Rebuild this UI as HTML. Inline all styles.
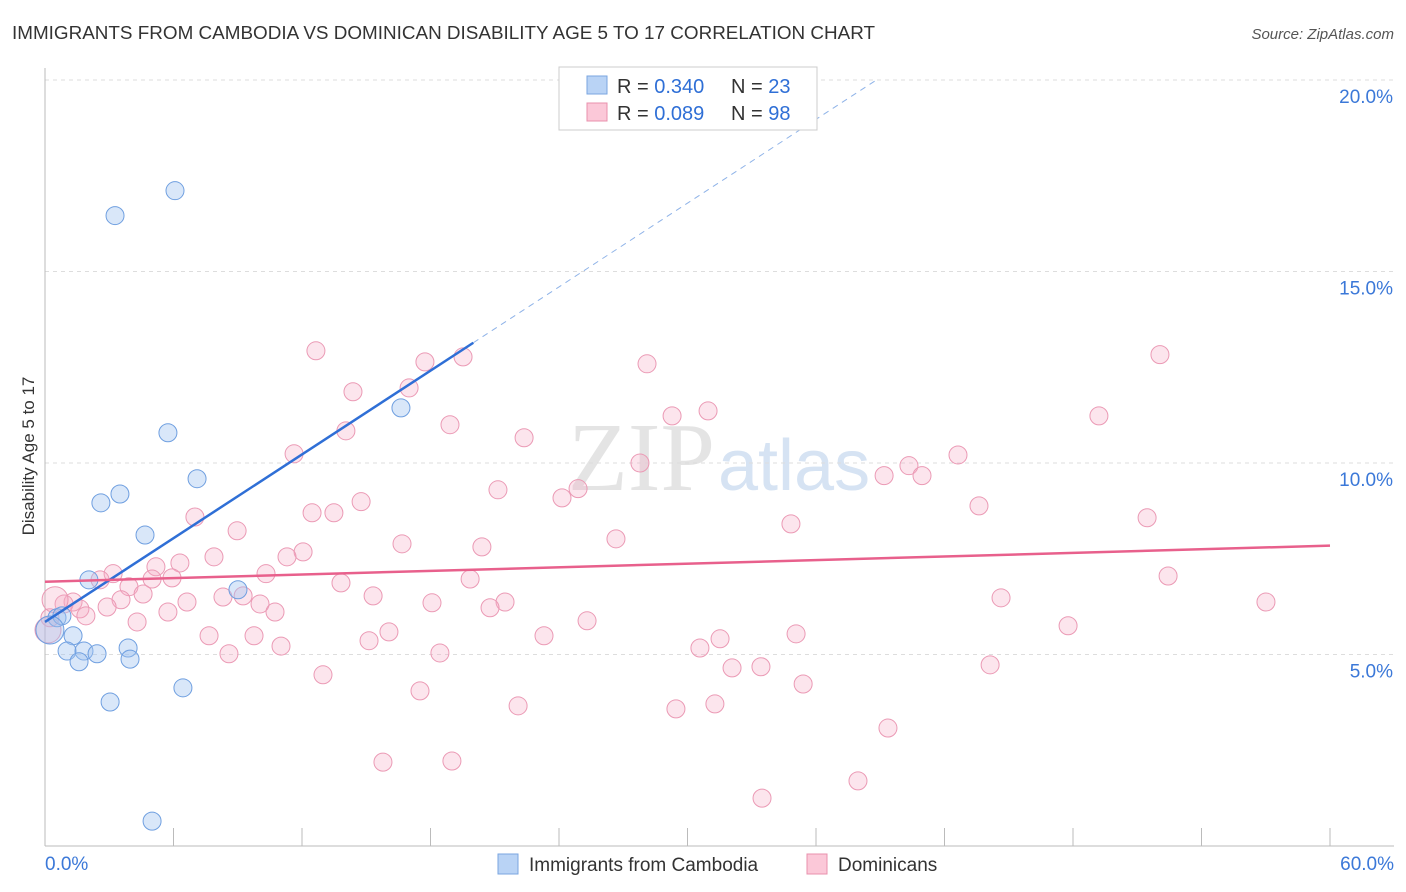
<!DOCTYPE html>
<html><head><meta charset="utf-8"><style>
body{margin:0;background:#fff;font-family:"Liberation Sans",sans-serif}
svg{display:block}
</style></head><body>
<svg id="chart" width="1406" height="892" xmlns="http://www.w3.org/2000/svg">
<text x="12" y="39" font-size="18" fill="#333" textLength="863" lengthAdjust="spacingAndGlyphs">IMMIGRANTS FROM CAMBODIA VS DOMINICAN DISABILITY AGE 5 TO 17 CORRELATION CHART</text>
<text x="1394" y="39" font-size="15" fill="#555" font-style="italic" text-anchor="end">Source: ZipAtlas.com</text>
<text x="715" y="490" font-size="98" fill="#e4e4e4" text-anchor="end" font-family="Liberation Serif,serif">ZIP</text>
<text x="718" y="490" font-size="72" fill="#d6e3f3">atlas</text>
<text transform="translate(34,456) rotate(-90)" font-size="17" fill="#333" text-anchor="middle">Disability Age 5 to 17</text>
<g id="grid"></g><g id="pts"></g><g id="trend"></g>
<g>
<rect x="559" y="67" width="258" height="63" fill="#fff" stroke="#ccc"/>
<rect x="587" y="76" width="20" height="18" fill="#b9d3f5" stroke="#7aa6e0"/>
<rect x="587" y="103" width="20" height="18" fill="#fbc8d8" stroke="#e890ad"/>
<text x="617" y="93" font-size="20" fill="#333">R = <tspan fill="#2f6fd6">0.340</tspan></text>
<text x="731" y="93" font-size="20" fill="#333">N = <tspan fill="#2f6fd6">23</tspan></text>
<text x="617" y="120" font-size="20" fill="#333">R = <tspan fill="#2f6fd6">0.089</tspan></text>
<text x="731" y="120" font-size="20" fill="#333">N = <tspan fill="#2f6fd6">98</tspan></text>
</g>
<g>
<rect x="498" y="854" width="20" height="20" fill="#b9d3f5" stroke="#7aa6e0"/>
<text x="529" y="871" font-size="19" fill="#333">Immigrants from Cambodia</text>
<rect x="807" y="854" width="20" height="20" fill="#fbc8d8" stroke="#e890ad"/>
<text x="838" y="871" font-size="19" fill="#333">Dominicans</text>
</g>
</svg>
<script>
const yTicks=[5,10,15,20];
const yTickLabels=["5.0%","10.0%","15.0%","20.0%"];
const xTickLabels=["0.0%","60.0%"];
const cambX=[3.27,6.07,5.74,7.10,3.50,2.61,4.67,2.05,9.01,16.62,0.56,0.79,1.31,1.03,1.82,2.43,1.59,3.88,3.97,6.44,3.04,5.00,0.23];
const cambY=[16.46,17.11,10.79,9.59,9.19,8.96,8.12,6.95,6.69,11.44,5.96,6.01,5.49,5.09,5.09,5.02,4.81,5.17,4.88,4.13,3.76,0.65,5.64];
const domX=[12.65,19.52,17.74,14.38,17.00,28.11,52.06,29.28,30.96,49.21,14.05,18.91,22.37,11.63,27.78,40.34,42.63,39.18,40.95,21.15,24.89,24.14,14.76,12.47,13.49,7.00,8.97,43.61,34.83,51.46,26.66,16.67,20.40,12.05,7.89,11.30,6.30,5.18,3.18,10.32,3.92,5.93,5.00,19.85,52.44,13.82,2.57,15.32,8.31,9.25,44.64,21.48,57.01,4.58,6.63,3.55,10.04,1.31,0.89,18.07,20.78,10.74,5.74,2.90,1.63,1.91,0.23,25.31,47.77,4.30,7.66,9.76,15.13,23.30,35.07,31.52,16.06,11.02,30.58,18.44,8.59,32.08,33.43,44.13,12.98,35.40,17.51,22.09,29.46,31.28,39.36,15.78,19.00,37.96,33.48,0.47,0.14];
const domY=[12.93,12.77,12.64,11.86,11.96,12.59,12.83,11.23,11.36,11.23,10.84,11.00,10.66,10.24,10.00,9.93,10.21,9.67,9.67,9.30,9.33,9.09,8.99,8.70,8.70,8.59,8.23,8.88,8.41,8.57,8.02,7.89,7.81,7.68,7.55,7.55,7.39,7.29,7.11,7.11,6.77,7.00,6.97,6.97,7.05,6.87,6.95,6.53,6.50,6.53,6.48,6.37,6.37,6.58,6.37,6.43,6.32,6.37,6.32,6.35,6.22,6.11,6.11,6.24,6.19,6.01,5.96,5.88,5.75,5.85,5.49,5.49,5.36,5.49,5.54,5.41,5.59,5.22,5.17,5.04,5.02,4.65,4.68,4.73,4.47,4.23,4.05,3.66,3.58,3.71,3.08,2.19,2.22,1.70,1.25,6.43,5.64];
const cambTrend=[5.85,0.3645];
const domTrend=[6.90,0.0157];
const NS="http://www.w3.org/2000/svg";
const X0=45,X1=1330,Y0=846,YPER=38.3;
const sx=v=>X0+(X1-X0)*v/60, sy=v=>Y0-v*YPER;
function mk(tag,attrs,parent){const e=document.createElementNS(NS,tag);for(const k in attrs)e.setAttribute(k,attrs[k]);parent.appendChild(e);return e;}
const grid=document.getElementById('grid');
yTicks.forEach((t,i)=>{
 const l=mk('line',{x1:X0,x2:1394,y1:sy(t),y2:sy(t),stroke:'#ddd','stroke-dasharray':'4,4'},grid);
 
 
 const tx=mk('text',{x:1393,y:sy(t)+23,'font-size':19,fill:'#3b78d8','text-anchor':'end'},grid);
 tx.textContent=yTickLabels[i];
 
 
});
const ax=mk('line',{x1:X0,x2:1394,y1:Y0,y2:Y0,stroke:'#bbb'},grid);


const ay=mk('line',{x1:X0,x2:X0,y1:68,y2:Y0,stroke:'#bbb'},grid);


for(let i=0;i<=10;i++){const v=i*6;const t=mk('line',{x1:sx(v),x2:sx(v),y1:Y0,y2:Y0-18,stroke:'#bbb'},grid);
 
 }
[0,60].forEach((v,i)=>{const t=mk('text',{x:v?1394:45,y:870,'font-size':19,fill:'#3b78d8','text-anchor':v?'end':'start'},grid);t.textContent=xTickLabels[i];
 
 });
const pts=document.getElementById('pts');
domX.forEach((x,i)=>{const big=i>=domX.length-2;const c=mk('circle',{cx:sx(x),cy:sy(domY[i]),r:big?13:9,fill:'rgba(245,170,195,0.3)',stroke:'#eb9ab5','stroke-width':1},pts);
 
 });
cambX.forEach((x,i)=>{const big=i===cambX.length-1;const c=mk('circle',{cx:sx(x),cy:sy(cambY[i]),r:big?14:9,fill:'rgba(160,195,240,0.4)',stroke:'#6f9fe0','stroke-width':1},pts);
 
 });
const tr=document.getElementById('trend');
const xEnd=20, xDash=(20-cambTrend[0])/cambTrend[1];
const b1=mk('line',{x1:sx(0),y1:sy(cambTrend[0]),x2:sx(xEnd),y2:sy(cambTrend[0]+cambTrend[1]*xEnd),stroke:'#2f6fd6','stroke-width':2.5},tr);


const b2=mk('line',{x1:sx(xEnd),y1:sy(cambTrend[0]+cambTrend[1]*xEnd),x2:sx(xDash),y2:sy(20),stroke:'#8fb3e8','stroke-width':1,'stroke-dasharray':'6,5'},tr);


const p1=mk('line',{x1:sx(0),y1:sy(domTrend[0]),x2:sx(60),y2:sy(domTrend[0]+domTrend[1]*60),stroke:'#e8608c','stroke-width':2.5},tr);


</script>
</body></html>
